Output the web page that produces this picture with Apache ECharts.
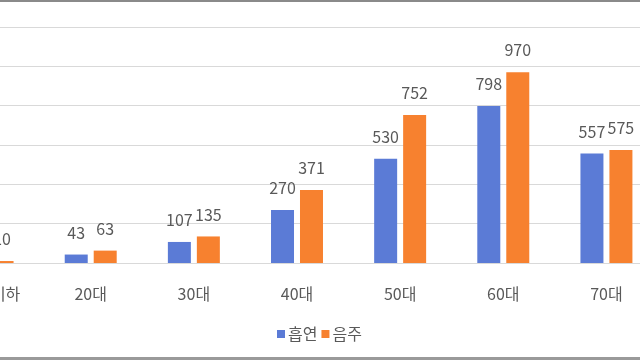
<!DOCTYPE html>
<html>
<head>
<meta charset="utf-8">
<script src="https://cdn.jsdelivr.net/npm/echarts@6/dist/echarts.min.js"></script>
<style>
html,body{margin:0;padding:0;background:#fff;width:640px;height:360px;overflow:hidden;position:relative;}
#chart{position:absolute;left:-64px;top:0;width:722px;height:360px;}
</style>
</head>
<body>
<div id="chart"></div>
<script>
const categories = ['10대 이하', '20대', '30대', '40대', '50대', '60대', '70대'];
const smoking = [5, 43, 107, 270, 530, 798, 557];
const drinking = [10, 63, 135, 371, 752, 970, 575];
const seriesNames = ['흡연', '음주'];

const font = '"Noto Sans CJK KR", "Noto Sans", sans-serif';
const labelStyle = {
  show: true,
  position: 'top',
  distance: 14,
  color: '#595959',
  fontSize: 16,
  fontFamily: font
};

const chart = echarts.init(document.getElementById('chart'));
chart.setOption({
  animation: false,
  backgroundColor: '#ffffff',
  grid: { left: 0, right: 0, top: 27, bottom: 97, containLabel: false },
  legend: {
    data: seriesNames,
    top: 321,
    left: 336,
    itemWidth: 8,
    itemHeight: 8,
    itemGap: 4,
    icon: 'rect',
    textStyle: { color: '#595959', fontSize: 16, fontFamily: font, padding: [0, 0, 0, -2] }
  },
  xAxis: {
    type: 'category',
    data: categories,
    axisLine: { show: true, lineStyle: { color: '#d9d9d9', width: 1 } },
    axisTick: { show: false },
    axisLabel: { color: '#595959', fontSize: 16, fontFamily: font, margin: 23 }
  },
  yAxis: {
    type: 'value',
    min: 0,
    max: 1200,
    interval: 200,
    axisLabel: { show: false },
    axisLine: { show: false },
    axisTick: { show: false },
    splitLine: { lineStyle: { color: '#d9d9d9', width: 1 } }
  },
  series: [
    {
      name: seriesNames[0],
      type: 'bar',
      data: smoking,
      itemStyle: { color: '#5b7bd6' },
      barWidth: 23,
      barGap: '26%',
      label: labelStyle
    },
    {
      name: seriesNames[1],
      type: 'bar',
      data: drinking,
      itemStyle: { color: '#f7812f' },
      barWidth: 23,
      label: labelStyle
    }
  ],
  graphic: [
    { type: 'rect', left: 64, top: 0, shape: { width: 640, height: 2 }, style: { fill: '#8a8a8a' } },
    { type: 'rect', left: 64, top: 357, shape: { width: 640, height: 3 }, style: { fill: '#9a9a9a' } }
  ]
});
</script>
</body>
</html>
